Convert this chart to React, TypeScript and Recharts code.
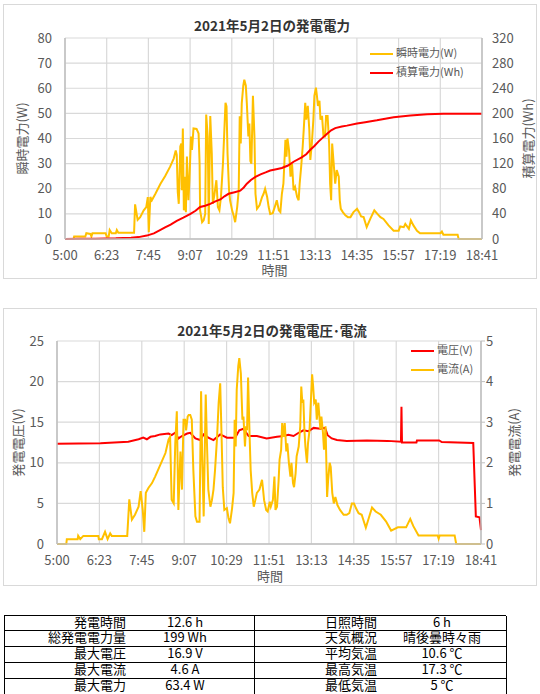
import React from "react";
import { LineChart, Line, XAxis, YAxis, CartesianGrid, Legend } from "recharts";

const FONT = '"Noto Sans CJK JP", "Noto Sans", sans-serif';

// x axis: minutes of the day, 5:00 .. 18:41
const timeTicks = [300, 382.1, 464.2, 546.3, 628.4, 710.5, 792.6, 874.7, 956.8, 1038.9, 1121];
const timeLabels = ["5:00", "6:23", "7:45", "9:07", "10:29", "11:51", "13:13", "14:35", "15:57", "17:19", "18:41"];

const wattTicks = [0, 10, 20, 30, 40, 50, 60, 70, 80];
const whTicks = [0, 40, 80, 120, 160, 200, 240, 280, 320];
const voltTicks = [0, 5, 10, 15, 20, 25];
const ampTicks = [0, 1, 2, 3, 4, 5];

// [minute, W]
const powerW: [number, number][] = [
  [300, 0], [317, 0], [318, 1.0], [340, 1.0], [342, 2.3], [350, 2.0], [352, 1.0], [354, 2.3], [380, 2.3],
  [382, 1.0], [386, 1.0], [388, 3.6], [392, 2.3], [400, 2.3], [402, 3.6], [405, 2.5], [436, 2.5], [438, 13.8],
  [443, 7.6], [448, 8.7], [455, 11.4], [460, 12.7], [463, 16.7], [465, 2.7], [468, 16.7], [471, 15.4], [478, 18],
  [488, 22], [497, 25], [507, 28.8], [514, 32], [518, 35.2], [520, 33.5], [522, 18.7], [524, 14], [527, 36.8],
  [529, 38], [530, 19.4], [532, 44], [534, 11.4], [536, 24.8], [538, 10.7], [540, 32.8], [543, 15.4], [545, 23.4],
  [548, 40.8], [550, 35.5], [553, 44], [559, 43.8], [563, 42], [565, 30], [566, 11.4], [570, 6.7], [573, 7.4],
  [576, 10], [578, 49.5], [581, 40.8], [583, 6], [586, 48.9], [589, 34], [591, 14], [594, 17.4], [598, 23.4],
  [601, 12.7], [604, 11.4], [607, 16.7], [611, 30], [616, 54.2], [618, 52.8], [620, 34], [623, 19.4], [625, 15.4],
  [629, 11.4], [632, 9.4], [635, 6.7], [639, 12.7], [642, 19.4], [644, 48.9], [646, 38], [648, 54], [651, 61],
  [653, 63.4], [656, 61], [658, 54], [661, 40.8], [663, 46], [665, 31], [667, 30], [670, 57], [673, 40.8],
  [675, 18], [678, 12], [683, 13.4], [688, 16.7], [691, 18], [694, 20], [698, 16.7], [701, 12.7], [704, 10],
  [709, 10.3], [714, 13.4], [717, 15.4], [721, 11.4], [724, 10.7], [727, 18], [730, 22], [734, 39.5], [736, 32.8],
  [738, 40], [741, 35.5], [744, 24.8], [747, 30], [750, 19.4], [753, 20.7], [757, 16.7], [760, 15.4], [762, 22],
  [765, 28.8], [768, 36.8], [770, 43.5], [773, 54.2], [775, 47.5], [778, 53], [781, 43.5], [783, 31.5], [786, 38],
  [789, 47.5], [791, 57], [794, 60.2], [796, 57], [798, 53], [801, 55], [803, 47.5], [806, 49], [809, 40.8],
  [812, 40.8], [814, 49], [817, 49], [820, 38], [822, 22], [824, 15.4], [826, 38], [829, 30], [832, 22],
  [835, 27.4], [839, 24.8], [841, 15.4], [843, 12], [847, 10.7], [852, 9.4], [857, 8.7], [862, 8.7], [868, 10.7],
  [875, 12], [879, 10.7], [883, 9], [888, 8.7], [894, 4.7], [901, 8], [909, 11.4], [915, 10], [921, 8.7],
  [927, 8], [937, 5.4], [947, 3.3], [957, 3.3], [960, 5], [967, 4.7], [970, 6], [977, 4], [981, 7.4],
  [986, 5.4], [993, 3.3], [999, 2.3], [1039, 2.3], [1042, 3], [1045, 1.7], [1073, 1.7], [1075, 0], [1121, 0],
];

// [minute, Wh]
const energyWh: [number, number][] = [
  [300, 0], [330, 0.2], [360, 0.4], [400, 1], [430, 2], [445, 3], [461, 5.4], [475, 9], [488, 14.5], [497, 18.5],
  [508, 23], [520, 29], [533, 34], [547, 40], [557, 45], [566, 51], [576, 53], [586, 56], [596, 60], [606, 63],
  [614, 68], [622, 72], [634, 74.5], [645, 77], [652, 82], [658, 88], [666, 94], [675, 99], [685, 103], [695, 106],
  [704, 109], [716, 111], [727, 113], [739, 117], [750, 123], [766, 130], [775, 135], [783, 142], [791, 148],
  [799, 155], [807, 161], [816, 167.5], [824, 173], [832, 176.5], [845, 179], [855, 180.5], [875, 184], [891, 186],
  [914, 189], [947, 194], [980, 196.5], [1013, 198.5], [1045, 199.5], [1121, 199.5],
];

// [minute, V]
const voltageV: [number, number][] = [
  [300, 12.35], [384, 12.4], [438, 12.6], [458, 12.9], [467, 13.1], [474, 12.9], [481, 13.2], [490, 13.3],
  [500, 13.5], [516, 13.6], [522, 13.4], [529, 13.7], [535, 13.0], [542, 13.3], [552, 13.6], [558, 13.7],
  [568, 13.0], [577, 12.8], [584, 13.5], [593, 13.1], [603, 12.8], [616, 13.5], [629, 13.1], [645, 13.1],
  [653, 14.0], [661, 14.2], [671, 13.3], [687, 13.3], [706, 13.0], [726, 13.2], [739, 13.3], [748, 13.45],
  [758, 13.3], [768, 13.7], [777, 14.0], [787, 13.9], [797, 14.3], [810, 14.2], [819, 14.3], [824, 13.4],
  [832, 13.0], [842, 12.8], [861, 12.7], [900, 12.75], [940, 12.7], [966, 12.6], [967, 16.9], [968, 12.5],
  [996, 12.5], [997, 12.75], [1040, 12.75], [1045, 12.55], [1106, 12.45], [1111, 3.4], [1118, 3.3], [1121, 1.7],
];

// [minute, A]
const currentA: [number, number][] = [
  [300, 0], [318, 0], [319, 0.12], [340, 0.12], [341, 0.2], [345, 0.12], [351, 0.2], [380, 0.2], [381, 0.12],
  [387, 0.12], [393, 0.3], [398, 0.12], [403, 0.26], [406, 0.2], [436, 0.2], [440, 1.1], [445, 0.6], [451, 0.72],
  [458, 0.92], [462, 1.3], [466, 0.84], [469, 0.3], [472, 1.26], [477, 1.38], [484, 1.5], [490, 1.66], [500, 1.95],
  [510, 2.24], [516, 2.57], [519, 2.64], [522, 1.09], [526, 1.0], [529, 2.48], [532, 3.27], [535, 0.84], [539, 2.28],
  [542, 1.34], [545, 3.06], [548, 3.06], [550, 2.8], [553, 3.14], [555, 3.18], [558, 3.18], [561, 3.06], [564, 1.82],
  [568, 0.68], [571, 0.55], [576, 0.55], [579, 3.76], [581, 2.24], [584, 0.68], [588, 3.68], [590, 2.64], [593, 1.34],
  [597, 0.92], [600, 1.08], [603, 1.34], [606, 1.82], [610, 2.64], [613, 3.48], [616, 3.96], [619, 2.48], [621, 1.4],
  [624, 0.84], [629, 0.88], [632, 0.64], [635, 0.51], [639, 0.88], [642, 1.26], [644, 3.06], [646, 2.4], [648, 3.8],
  [651, 4.38], [653, 4.58], [656, 4.2], [659, 3.06], [661, 3.14], [664, 2.4], [666, 2.9], [668, 2.8], [670, 4.1],
  [673, 2.64], [675, 1.82], [678, 1.26], [681, 0.92], [684, 1.08], [687, 1.26], [692, 1.34], [697, 1.58], [699, 1.34],
  [701, 1.08], [705, 0.84], [708, 0.8], [712, 1.04], [714, 0.92], [718, 1.08], [721, 1.66], [723, 0.84], [726, 0.92],
  [729, 1.54], [731, 2.08], [734, 2.32], [736, 2.98], [739, 2.64], [741, 2.98], [744, 2.28], [746, 2.48], [749, 2.0],
  [752, 1.66], [754, 2.0], [757, 1.5], [759, 1.4], [762, 1.74], [764, 2.16], [768, 2.4], [771, 2.9], [773, 3.88],
  [775, 3.48], [777, 3.56], [779, 2.82], [781, 2.4], [784, 2.0], [786, 2.48], [789, 2.8], [792, 3.64], [794, 4.18],
  [796, 3.88], [798, 3.48], [801, 3.56], [803, 3.06], [806, 3.48], [810, 2.82], [812, 3.14], [815, 2.74], [817, 2.32],
  [820, 2.9], [823, 1.16], [825, 1.58], [828, 2.0], [830, 1.9], [833, 1.26], [836, 1.0], [839, 1.16], [843, 0.96],
  [848, 0.84], [855, 0.72], [861, 0.72], [866, 0.76], [871, 1.0], [875, 1.0], [879, 0.88], [884, 0.76], [890, 0.72],
  [898, 0.4], [910, 0.9], [917, 0.8], [927, 0.72], [937, 0.56], [947, 0.33], [960, 0.41], [976, 0.41], [984, 0.62],
  [990, 0.44], [1000, 0.21], [1037, 0.21], [1039, 0.13], [1041, 0.21], [1070, 0.21], [1073, 0], [1121, 0],
];

const leftLabels = ["発電時間", "総発電電力量", "最大電圧", "最大電流", "最大電力"];
const leftValues = ["12.6 h", "199 Wh", "16.9 V", "4.6 A", "63.4 W"];
const rightLabels = ["日照時間", "天気概況", "平均気温", "最高気温", "最低気温"];
const rightValues = ["6 h", "晴後曇時々雨", "10.6 ℃", "17.3 ℃", "5 ℃"];

const YELLOW = "#ffc000";
const RED = "#ff0000";
const GRID = "#d9d9d9";
const AXIS = "#bfbfbf";
const TEXT = "#595959";

function merge(a: [number, number][], ka: string, b: [number, number][], kb: string) {
  const m = new Map<number, any>();
  a.forEach(([t, v]) => { const r = m.get(t) ?? { t }; r[ka] = v; m.set(t, r); });
  b.forEach(([t, v]) => { const r = m.get(t) ?? { t }; r[kb] = v; m.set(t, r); });
  return [...m.values()].sort((x, y) => x.t - y.t);
}

const rows1 = merge(powerW, "w", energyWh, "wh");
const rows2 = merge(voltageV, "v", currentA, "a");

const fmtTime = (v: number) => timeLabels[timeTicks.indexOf(v)] ?? "";
const tickStyle = { fontSize: 13, fill: TEXT, fontFamily: FONT };
const axisLine = { stroke: AXIS, strokeWidth: 1.5 };

const XTitle = ({ viewBox, dy }: any) => {
  const x = viewBox.x + viewBox.width / 2 + 1;
  const y = viewBox.y + dy;
  return (
    <text x={x} y={y} textAnchor="middle" dominantBaseline="central" fontSize={13} fill={TEXT} fontFamily={FONT}>
      時間
    </text>
  );
};

const YTitle = ({ viewBox, cx, text }: any) => {
  const x = viewBox.x + cx;
  const y = viewBox.y + viewBox.height / 2;
  return (
    <text x={x} y={y} transform={`rotate(-90 ${x} ${y})`} textAnchor="middle" dominantBaseline="central"
      fontSize={13} fill={TEXT} fontFamily={FONT}>
      {text}
    </text>
  );
};

const LegendBox = ({ items }: { items: { name: string; color: string }[] }) => (
  <div style={{ fontFamily: FONT, fontSize: 11, color: TEXT }}>
    {items.map((it) => (
      <div key={it.name} style={{ height: 19, lineHeight: "19px", whiteSpace: "nowrap" }}>
        <span style={{ display: "inline-block", width: 23, height: 2, background: it.color, verticalAlign: "middle", marginRight: 3 }} />
        {it.name}
      </div>
    ))}
  </div>
);

const Title = ({ top, text }: { top: number; text: string }) => (
  <div style={{ position: "absolute", left: 0, top, width: 544, textAlign: "center", fontFamily: FONT,
    fontSize: 13.5, fontWeight: "bold", color: "#333", lineHeight: "18px" }}>
    {text}
  </div>
);

const Box = ({ top, height }: { top: number; height: number }) => (
  <div style={{ position: "absolute", left: 3, top, width: 534, height, border: `1px solid ${GRID}`, boxSizing: "border-box" }} />
);

function PowerChart() {
  return (
    <LineChart width={540} height={290} data={rows1} margin={{ top: 38, right: 0, bottom: 0, left: 0 }}>
      <CartesianGrid yAxisId="w" stroke={GRID} strokeWidth={1.2} />
      <XAxis dataKey="t" type="number" domain={[300, 1121]} ticks={timeTicks} interval={0} tickFormatter={fmtTime}
        height={51} tickLine={false} tickSize={0} tickMargin={12} axisLine={axisLine} tick={tickStyle}
        label={<XTitle dy={30} />} />
      <YAxis yAxisId="w" domain={[0, 80]} ticks={wattTicks} width={65} tickLine={false} tickSize={0} tickMargin={13}
        axisLine={axisLine} tick={tickStyle} label={<YTitle cx={21} text="瞬時電力(W)" />} />
      <YAxis yAxisId="wh" orientation="right" domain={[0, 320]} ticks={whTicks} width={58} tickLine={false} tickSize={0}
        tickMargin={10} axisLine={axisLine} tick={tickStyle} label={<YTitle cx={45} text="積算電力(Wh)" />} />
      <Legend layout="vertical" align="center" verticalAlign="middle"
        wrapperStyle={{ left: 370, top: 43, width: 110, height: 38 }}
        content={() => <LegendBox items={[{ name: "瞬時電力(W)", color: YELLOW }, { name: "積算電力(Wh)", color: RED }]} />} />
      <Line yAxisId="w" type="linear" dataKey="w" stroke={YELLOW} strokeWidth={2} dot={false} connectNulls isAnimationActive={false} />
      <Line yAxisId="wh" type="linear" dataKey="wh" stroke={RED} strokeWidth={2} dot={false} connectNulls isAnimationActive={false} />
    </LineChart>
  );
}

function VoltCurrentChart() {
  return (
    <LineChart width={540} height={300} data={rows2} margin={{ top: 41, right: 0, bottom: 0, left: 0 }}>
      <CartesianGrid yAxisId="v" stroke={GRID} strokeWidth={1.2} />
      <XAxis dataKey="t" type="number" domain={[300, 1121]} ticks={timeTicks} interval={0} tickFormatter={fmtTime}
        height={56} tickLine={false} tickSize={0} tickMargin={12} axisLine={axisLine} tick={tickStyle}
        label={<XTitle dy={31.5} />} />
      <YAxis yAxisId="v" domain={[0, 25]} ticks={voltTicks} width={57} tickLine={false} tickSize={0} tickMargin={13}
        axisLine={axisLine} tick={tickStyle} label={<YTitle cx={17} text="発電電圧(V)" />} />
      <YAxis yAxisId="a" orientation="right" domain={[0, 5]} ticks={ampTicks} width={59} tickLine={{ stroke: AXIS }}
        tickSize={4} tickMargin={1} axisLine={axisLine} tick={tickStyle} label={<YTitle cx={32} text="発電電流(A)" />} />
      <Legend layout="vertical" align="center" verticalAlign="middle"
        wrapperStyle={{ left: 411, top: 40, width: 70, height: 38 }}
        content={() => <LegendBox items={[{ name: "電圧(V)", color: RED }, { name: "電流(A)", color: YELLOW }]} />} />
      <Line yAxisId="v" type="linear" dataKey="v" stroke={RED} strokeWidth={2} dot={false} connectNulls isAnimationActive={false} />
      <Line yAxisId="a" type="linear" dataKey="a" stroke={YELLOW} strokeWidth={2} dot={false} connectNulls isAnimationActive={false} />
    </LineChart>
  );
}

function SummaryTable() {
  const rowH = 15.85;
  const cell = { position: "absolute" as const, top: -1, height: rowH - 1, lineHeight: `${rowH - 1}px`, whiteSpace: "nowrap" as const };
  return (
    <div style={{ position: "absolute", left: 4, top: 614.5, width: 502, height: rowH * 5, fontFamily: FONT,
      fontSize: 13, color: "#000", borderTop: "1px solid #000", boxSizing: "border-box" }}>
      {leftLabels.map((lab, i) => (
        <div key={lab} style={{ position: "absolute", left: 0, top: i * rowH, width: 502, height: rowH,
          borderBottom: "1px solid #000", boxSizing: "border-box" }}>
          <span style={{ ...cell, left: 0, width: 122, textAlign: "right" }}>{lab}</span>
          <span style={{ ...cell, left: 141, width: 80, textAlign: "center" }}>{leftValues[i]}</span>
          <span style={{ ...cell, left: 250, width: 123, textAlign: "right" }}>{rightLabels[i]}</span>
          <span style={{ ...cell, left: 388, width: 100, textAlign: "center" }}>{rightValues[i]}</span>
        </div>
      ))}
      <div style={{ position: "absolute", left: 0, top: 0, width: 1, height: rowH * 5, background: "#000" }} />
      <div style={{ position: "absolute", left: 250, top: 0, width: 1, height: rowH * 5, background: "#000" }} />
      <div style={{ position: "absolute", left: 502, top: 0, width: 1, height: rowH * 5, background: "#000" }} />
    </div>
  );
}

export default function App() {
  return (
    <div style={{ position: "absolute", left: 0, top: 0, width: 540, height: 694, background: "#fff", overflow: "hidden" }}>
      <Box top={4} height={275} />
      <Box top={308} height={278} />
      <div style={{ position: "absolute", left: 0, top: 0 }}>
        <PowerChart />
      </div>
      <div style={{ position: "absolute", left: 0, top: 300 }}>
        <VoltCurrentChart />
      </div>
      <Title top={16} text="2021年5月2日の発電電力" />
      <Title top={321} text="2021年5月2日の発電電圧･電流" />
      <SummaryTable />
    </div>
  );
}
